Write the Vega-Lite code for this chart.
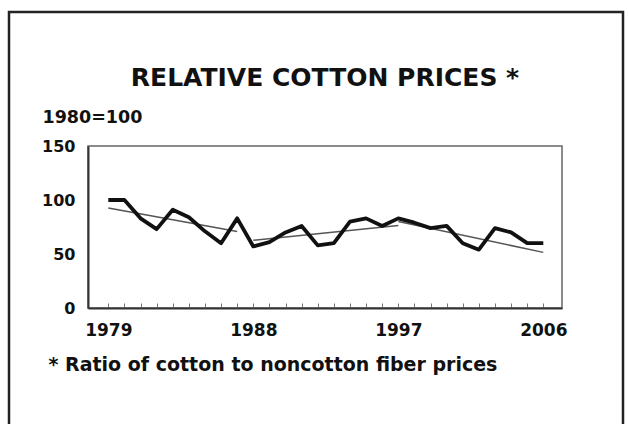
{
  "$schema": "https://vega.github.io/schema/vega-lite/v6.json",
  "width": 474,
  "height": 162,
  "autosize": {"type": "none"},
  "padding": {"left": 88, "top": 146, "right": 66, "bottom": 116},
  "background": "white",
  "title": {
    "text": "RELATIVE COTTON PRICES *",
    "font": "DejaVu Sans",
    "fontSize": 25,
    "fontWeight": "bold",
    "color": "#111111",
    "anchor": "middle",
    "frame": "group",
    "baseline": "alphabetic",
    "offset": -100.5
  },
  "datasets": {
    "prices": [
      {"year": 1979, "value": 100},
      {"year": 1980, "value": 100},
      {"year": 1981, "value": 83},
      {"year": 1982, "value": 73},
      {"year": 1983, "value": 91},
      {"year": 1984, "value": 84},
      {"year": 1985, "value": 71},
      {"year": 1986, "value": 60},
      {"year": 1987, "value": 83},
      {"year": 1988, "value": 57},
      {"year": 1989, "value": 61},
      {"year": 1990, "value": 70},
      {"year": 1991, "value": 76},
      {"year": 1992, "value": 58},
      {"year": 1993, "value": 60},
      {"year": 1994, "value": 80},
      {"year": 1995, "value": 83},
      {"year": 1996, "value": 76},
      {"year": 1997, "value": 83},
      {"year": 1998, "value": 79},
      {"year": 1999, "value": 74},
      {"year": 2000, "value": 76},
      {"year": 2001, "value": 60},
      {"year": 2002, "value": 54},
      {"year": 2003, "value": 74},
      {"year": 2004, "value": 70},
      {"year": 2005, "value": 60},
      {"year": 2006, "value": 60}
    ],
    "trend": [
      {"seg": "1979-1987", "year": 1979, "value": 92.6},
      {"seg": "1979-1987", "year": 1987, "value": 70.8},
      {"seg": "1988-1997", "year": 1988, "value": 62.7},
      {"seg": "1988-1997", "year": 1997, "value": 76.5},
      {"seg": "1997-2006", "year": 1997, "value": 80},
      {"seg": "1997-2006", "year": 2006, "value": 51.5}
    ]
  },
  "layer": [
    {
      "data": {"values": [{"frame": "outer"}]},
      "mark": {"type": "rect", "fill": "transparent", "stroke": "#222222", "strokeWidth": 2.5},
      "encoding": {
        "x": {"value": -79},
        "x2": {"value": 535},
        "y": {"value": -134},
        "y2": {"value": 320}
      }
    },
    {
      "data": {"name": "trend"},
      "mark": {"type": "line", "stroke": "#555555", "strokeWidth": 1.5},
      "encoding": {
        "x": {"field": "year", "type": "quantitative", "scale": {"domain": [1977.74, 2007.16], "nice": false, "zero": false}},
        "y": {"field": "value", "type": "quantitative", "scale": {"domain": [0, 150], "nice": false}},
        "detail": {"field": "seg"}
      }
    },
    {
      "data": {"name": "prices"},
      "mark": {"type": "line", "stroke": "#111111", "strokeWidth": 3.8, "strokeJoin": "round"},
      "encoding": {
        "x": {
          "field": "year",
          "type": "quantitative",
          "axis": {
            "values": [1979,1980,1981,1982,1983,1984,1985,1986,1987,1988,1989,1990,1991,1992,1993,1994,1995,1996,1997,1998,1999,2000,2001,2002,2003,2004,2005,2006],
            "tickCount": 40,
            "format": "d",
            "labelExpr": "(datum.value == 1979 || datum.value == 1988 || datum.value == 1997 || datum.value == 2006) ? datum.label : ''",
            "labelOverlap": false,
            "labelFlush": false,
            "grid": false,
            "domainColor": "#333333",
            "domainWidth": 2,
            "tickColor": "#777777",
            "tickSize": -5,
            "tickWidth": 1,
            "labelPadding": 19.5,
            "labelFont": "DejaVu Sans",
            "labelFontSize": 17,
            "labelFontWeight": "bold",
            "labelColor": "#111111",
            "title": "* Ratio of cotton to noncotton fiber prices",
            "titleX": -40,
            "titleY": 62.7,
            "titleAlign": "left",
            "titleBaseline": "alphabetic",
            "titleFont": "DejaVu Sans",
            "titleFontSize": 19,
            "titleFontWeight": "bold",
            "titleColor": "#111111"
          }
        },
        "y": {
          "field": "value",
          "type": "quantitative",
          "axis": {
            "values": [0, 50, 100, 150],
            "grid": false,
            "ticks": false,
            "domainColor": "#333333",
            "domainWidth": 2,
            "labelPadding": 13,
            "labelFont": "DejaVu Sans",
            "labelFontSize": 16,
            "labelFontWeight": "bold",
            "labelColor": "#111111",
            "title": "1980=100",
            "titleAngle": 0,
            "titleAlign": "left",
            "titleBaseline": "alphabetic",
            "titleX": -46,
            "titleY": -23.3,
            "titleFont": "DejaVu Sans",
            "titleFontSize": 17.5,
            "titleFontWeight": "bold",
            "titleColor": "#111111"
          }
        }
      }
    }
  ],
  "config": {
    "view": {"stroke": "#666666", "strokeWidth": 1.5}
  }
}
